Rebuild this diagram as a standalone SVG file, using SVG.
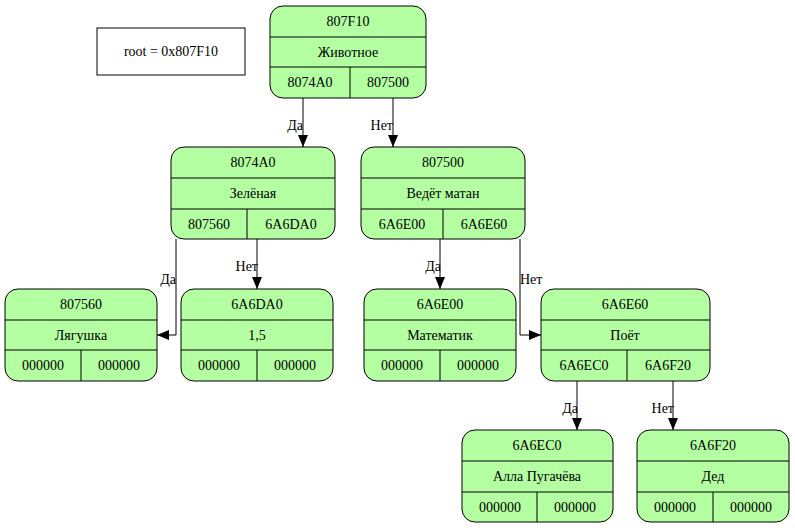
<svg xmlns="http://www.w3.org/2000/svg" width="795" height="528" viewBox="0 0 795 528" font-family="'Liberation Serif', 'Times New Roman', Tinos, 'DejaVu Serif', serif">
<style>
text{font-family:'Liberation Serif','Times New Roman',Tinos,'DejaVu Serif',serif;font-size:14px;fill:#000}
.c{text-anchor:middle}
.r{text-anchor:end}
.box{fill:#b3ffa1;stroke:#000;stroke-width:1}
.ln{stroke:#000;stroke-width:1;fill:none}
</style>
<defs>
<marker id="ah" viewBox="0 0 12 10" refX="12" refY="5" markerWidth="12" markerHeight="10" markerUnits="userSpaceOnUse" orient="auto">
<path d="M0,0L12,5L0,10z" fill="#000"/>
</marker>
</defs>
<rect width="795" height="528" fill="#fff"/>
<g id="rootlabel">
<rect x="97" y="28" width="148" height="47" fill="#fff" stroke="#000"/>
<text class="c" x="171" y="56">root = 0x807F10</text>
</g>
<g id="connectors">
<path class="ln" d="M303,98V147" marker-end="url(#ah)"/>
<text class="r" x="303" y="130">Да</text>
<path class="ln" d="M393,98V147" marker-end="url(#ah)"/>
<text class="r" x="393" y="130">Нет</text>
<path class="ln" d="M176,239V335H157" marker-end="url(#ah)"/>
<text class="r" x="176" y="284">Да</text>
<path class="ln" d="M257,239V289" marker-end="url(#ah)"/>
<text class="r" x="258" y="271">Нет</text>
<path class="ln" d="M440,239V289" marker-end="url(#ah)"/>
<text class="r" x="441" y="271">Да</text>
<path class="ln" d="M520,239V335H541" marker-end="url(#ah)"/>
<text x="520" y="284">Нет</text>
<path class="ln" d="M577,380V430" marker-end="url(#ah)"/>
<text class="r" x="578" y="413">Да</text>
<path class="ln" d="M673,380V430" marker-end="url(#ah)"/>
<text class="r" x="674" y="413">Нет</text>
</g>
<g id="n807F10">
<rect class="box" x="270" y="6" width="156" height="92" rx="13"/>
<path class="ln" d="M270,37H426M270,67H426M350,67V98"/>
<text class="c" x="348" y="26">807F10</text>
<text class="c" x="348" y="57">Животное</text>
<text class="c" x="310" y="87">8074A0</text>
<text class="c" x="388" y="87">807500</text>
</g>
<g id="n8074A0">
<rect class="box" x="171" y="147" width="164" height="92" rx="13"/>
<path class="ln" d="M171,178H335M171,209H335M247,209V239"/>
<text class="c" x="253" y="167">8074A0</text>
<text class="c" x="253" y="198">Зелёная</text>
<text class="c" x="209" y="229">807560</text>
<text class="c" x="291" y="229">6A6DA0</text>
</g>
<g id="n807500">
<rect class="box" x="361" y="147" width="164" height="92" rx="13"/>
<path class="ln" d="M361,178H525M361,209H525M443,209V239"/>
<text class="c" x="443" y="167">807500</text>
<text class="c" x="443" y="198">Ведёт матан</text>
<text class="c" x="402" y="229">6A6E00</text>
<text class="c" x="484" y="229">6A6E60</text>
</g>
<g id="n807560">
<rect class="box" x="5" y="289" width="152" height="92" rx="13"/>
<path class="ln" d="M5,320H157M5,350H157M81,350V381"/>
<text class="c" x="81" y="309">807560</text>
<text class="c" x="81" y="340">Лягушка</text>
<text class="c" x="43" y="370">000000</text>
<text class="c" x="119" y="370">000000</text>
</g>
<g id="n6A6DA0">
<rect class="box" x="181" y="289" width="152" height="92" rx="13"/>
<path class="ln" d="M181,320H333M181,350H333M257,350V381"/>
<text class="c" x="257" y="309">6A6DA0</text>
<text class="c" x="257" y="340">1,5</text>
<text class="c" x="219" y="370">000000</text>
<text class="c" x="295" y="370">000000</text>
</g>
<g id="n6A6E00">
<rect class="box" x="364" y="289" width="152" height="92" rx="13"/>
<path class="ln" d="M364,320H516M364,350H516M440,350V381"/>
<text class="c" x="440" y="309">6A6E00</text>
<text class="c" x="440" y="340">Математик</text>
<text class="c" x="402" y="370">000000</text>
<text class="c" x="478" y="370">000000</text>
</g>
<g id="n6A6E60">
<rect class="box" x="541" y="289" width="169" height="92" rx="13"/>
<path class="ln" d="M541,320H710M541,350H710M627,350V381"/>
<text class="c" x="625" y="309">6A6E60</text>
<text class="c" x="625" y="340">Поёт</text>
<text class="c" x="584" y="370">6A6EC0</text>
<text class="c" x="668" y="370">6A6F20</text>
</g>
<g id="n6A6EC0">
<rect class="box" x="462" y="430" width="151" height="92" rx="13"/>
<path class="ln" d="M462,461H613M462,492H613M537,492V522"/>
<text class="c" x="537" y="450">6A6EC0</text>
<text class="c" x="537" y="481">Алла Пугачёва</text>
<text class="c" x="500" y="512">000000</text>
<text class="c" x="575" y="512">000000</text>
</g>
<g id="n6A6F20">
<rect class="box" x="637" y="430" width="152" height="92" rx="13"/>
<path class="ln" d="M637,461H789M637,492H789M713,492V522"/>
<text class="c" x="713" y="450">6A6F20</text>
<text class="c" x="713" y="481">Дед</text>
<text class="c" x="675" y="512">000000</text>
<text class="c" x="751" y="512">000000</text>
</g>
</svg>
